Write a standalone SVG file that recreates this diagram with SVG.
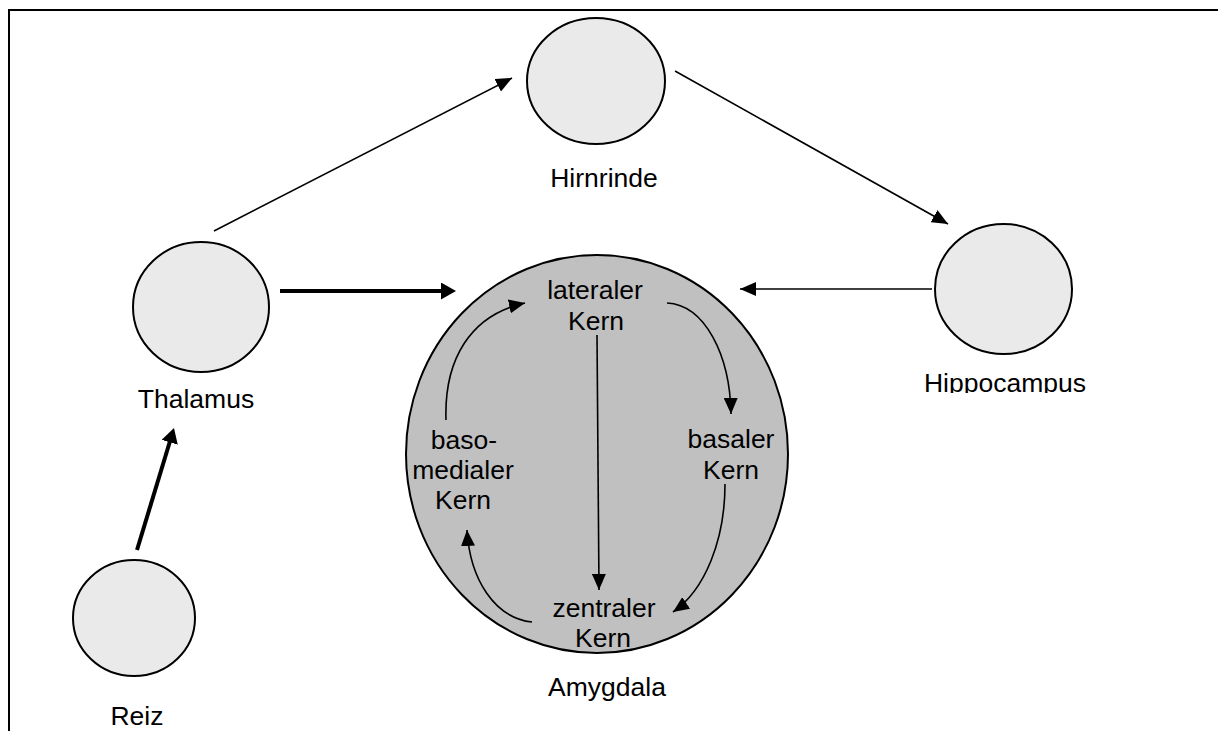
<svg xmlns="http://www.w3.org/2000/svg" width="1218" height="731" viewBox="0 0 1218 731">
  <style>
    .node { fill: #eaeaea; stroke: #000; stroke-width: 2; }
    .amy { fill: #c0c0c0; stroke: #000; stroke-width: 2; }
    .lbl { font-family: "Liberation Sans", Arial, sans-serif; font-size: 26.5px; fill: #000; text-anchor: middle; }
    .thin { fill: none; stroke: #000; stroke-width: 1.6; marker-end: url(#ah); }
    .thick { fill: none; stroke: #000; stroke-width: 4; marker-end: url(#ahb); }
  </style>
  <defs>
    <marker id="ah" viewBox="0 0 16 14" refX="16" refY="7" markerWidth="16" markerHeight="14" markerUnits="userSpaceOnUse" orient="auto">
      <path d="M0,0 L16,7 L0,14 z" fill="#000"/>
    </marker>
    <marker id="ahb" viewBox="0 0 15 17" refX="4" refY="8.5" markerWidth="15" markerHeight="17" markerUnits="userSpaceOnUse" orient="auto">
      <path d="M0,0 L15,8.5 L0,17 z" fill="#000"/>
    </marker>
    <clipPath id="hipclip">
      <rect x="900" y="350" width="220" height="43"/>
    </clipPath>
  </defs>
  <rect x="0" y="0" width="1218" height="731" fill="#fff"/>
  <rect x="9" y="10" width="1230" height="740" fill="none" stroke="#000" stroke-width="2"/>

  <g id="hirnrinde">
    <ellipse class="node" cx="596" cy="81" rx="69" ry="63"/>
    <text class="lbl" x="604" y="187">Hirnrinde</text>
  </g>
  <g id="thalamus">
    <ellipse class="node" cx="201" cy="307" rx="68" ry="65"/>
    <text class="lbl" x="196" y="408">Thalamus</text>
  </g>
  <g id="reiz">
    <ellipse class="node" cx="134" cy="618" rx="61" ry="58"/>
    <text class="lbl" x="137" y="725">Reiz</text>
  </g>
  <g id="hippocampus">
    <ellipse class="node" cx="1003.5" cy="289" rx="68.5" ry="65"/>
    <text class="lbl" x="1005" y="392" clip-path="url(#hipclip)">Hippocampus</text>
  </g>
  <g id="amygdala">
    <ellipse class="amy" cx="597" cy="454" rx="191" ry="199"/>
    <text class="lbl" x="607" y="696">Amygdala</text>
  </g>
  <g id="lateraler-kern">
    <text class="lbl" x="595" y="299">lateraler</text>
    <text class="lbl" x="596" y="330">Kern</text>
  </g>
  <g id="basaler-kern">
    <text class="lbl" x="731" y="448">basaler</text>
    <text class="lbl" x="731" y="479">Kern</text>
  </g>
  <g id="basomedialer-kern">
    <text class="lbl" x="464" y="449">baso-</text>
    <text class="lbl" x="463" y="479">medialer</text>
    <text class="lbl" x="463" y="509">Kern</text>
  </g>
  <g id="zentraler-kern">
    <text class="lbl" x="604" y="617">zentraler</text>
    <text class="lbl" x="603" y="647">Kern</text>
  </g>

  <g id="connectors">
    <line class="thin" x1="214" y1="231" x2="512" y2="78"/>
    <line class="thin" x1="675" y1="71" x2="948" y2="224"/>
    <line class="thin" x1="932" y1="289" x2="740" y2="289"/>
    <line class="thick" x1="280" y1="291" x2="445" y2="291"/>
    <line class="thick" x1="137" y1="550" x2="170.8" y2="438.5"/>
    <line class="thin" x1="597" y1="335" x2="599" y2="590"/>
    <path class="thin" d="M667,303 C705,305 730,355 731,414"/>
    <path class="thin" d="M725,484 C725,540 705,590 673,612"/>
    <path class="thin" d="M532,622 C495,618 470,580 467,530"/>
    <path class="thin" d="M446,420 C444,360 470,315 525,303"/>
  </g>
</svg>
